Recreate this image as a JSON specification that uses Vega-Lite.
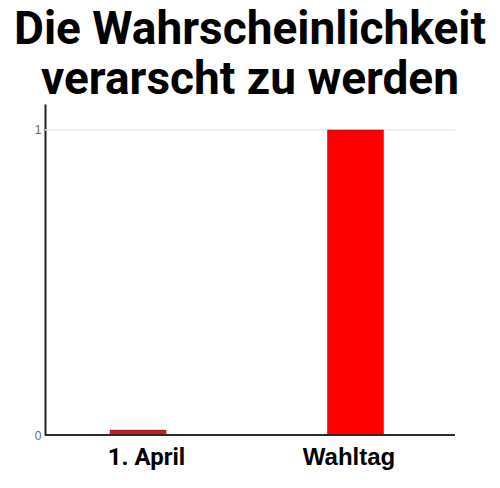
{
  "$schema": "https://vega.github.io/schema/vega-lite/v6.json",
  "width": 410,
  "height": 331,
  "autosize": "none",
  "padding": {"left": 45, "top": 104, "right": 45, "bottom": 53},
  "background": "white",
  "title": {
    "text": ["Die Wahrscheinlichkeit", "verarscht zu werden"],
    "font": "Roboto",
    "fontSize": 46,
    "fontWeight": "bold",
    "lineHeight": 50,
    "color": "black",
    "anchor": "middle",
    "frame": "group",
    "offset": 0
  },
  "config": {"view": {"stroke": null}},
  "data": {"values": [
    {"tag": "1. April", "p": 0.016},
    {"tag": "Wahltag", "p": 1}
  ]},
  "layer": [
    {
      "mark": {"type": "rule", "color": "#eaeaea", "strokeWidth": 1},
      "encoding": {"y": {"datum": 1}}
    },
    {
      "mark": {"type": "bar", "size": 56, "stroke": "#c80000", "strokeWidth": 1, "strokeOpacity": 0.5},
      "encoding": {
        "x": {
          "field": "tag", "type": "nominal", "sort": null,
          "scale": {"range": [-15.75, 419.25], "paddingInner": 0, "paddingOuter": 0},
          "axis": {
            "title": null, "domain": false, "ticks": false, "grid": false,
            "labelAngle": 0, "labelFontSize": 24, "labelFontWeight": "bold",
            "labelColor": "black", "labelPadding": 10,
            "labelFont": {"condition": {"test": "datum.value == 'Wahltag'", "value": "Liberation Sans"}, "value": "Roboto"},
            "labelOffset": {"condition": {"test": "datum.value == 'Wahltag'", "value": -6.5}, "value": 8.5}
          }
        },
        "y": {
          "field": "p", "type": "quantitative",
          "scale": {"domain": [0, 1.085], "nice": false},
          "axis": {
            "title": null, "values": [0, 1], "format": "d", "ticks": false,
            "labelFontSize": 12, "labelColor": "#666666", "labelPadding": 4,
            "labelFont": "Liberation Sans",
            "domainColor": "#222222", "domainWidth": 2,
            "grid": false
          }
        },
        "color": {
          "field": "tag", "type": "nominal",
          "scale": {"range": ["#b3252a", "#fe0000"]},
          "legend": null
        }
      }
    },
    {
      "mark": {"type": "rule", "color": "#2b2b2b", "strokeWidth": 2},
      "encoding": {"y": {"datum": 0}}
    }
  ]
}
